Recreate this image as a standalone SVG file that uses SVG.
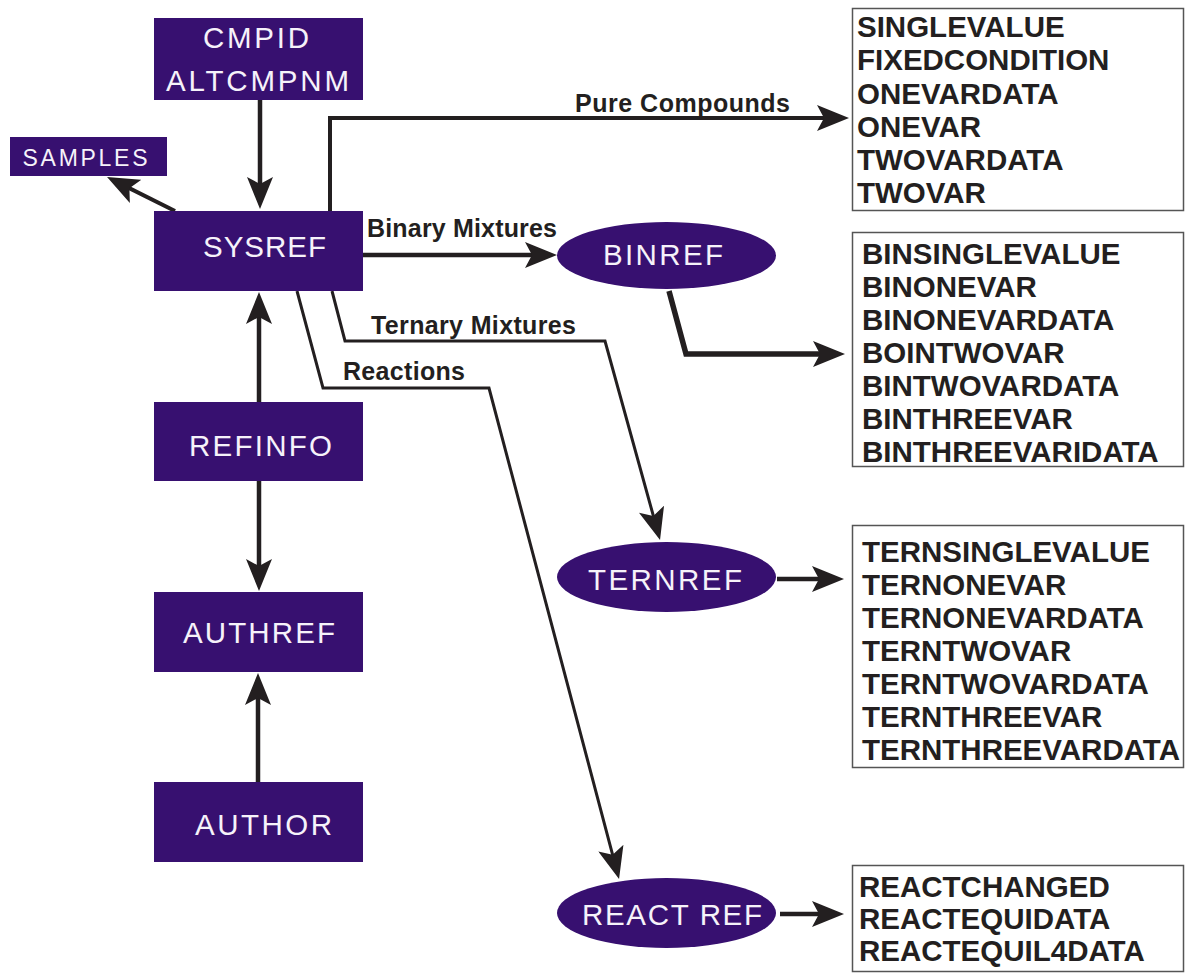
<svg xmlns="http://www.w3.org/2000/svg" width="1185" height="973" viewBox="0 0 1185 973">
<defs>
<marker id="ah" markerUnits="userSpaceOnUse" viewBox="0 0 32 26" markerWidth="32" markerHeight="26" refX="24" refY="13" orient="auto">
<path d="M0,0 L32,13 L0,26 L7,13 z" fill="#231f20"/>
</marker>
<style>
.node{fill:#371070;}
.nt{font-family:"Liberation Sans",Arial,sans-serif;font-size:29.5px;fill:#f6f2fa;text-anchor:middle;}
.lbl{font-family:"Liberation Sans",Arial,sans-serif;font-size:25px;font-weight:bold;fill:#231f20;}
.lst{font-family:"Liberation Sans",Arial,sans-serif;font-size:29.5px;font-weight:bold;fill:#231f20;}
.box{fill:#ffffff;stroke:#555555;stroke-width:1.5;}
.c{fill:none;stroke:#231f20;stroke-linejoin:miter;marker-end:url(#ah);}
</style>
</defs>
<rect width="1185" height="973" fill="#ffffff"/>

<g id="connectors">
<path class="c" stroke-width="4.5" d="M260,100 V201"/>
<path class="c" stroke-width="4" d="M175,211 L114.2,180.6"/>
<path class="c" stroke-width="4.5" d="M259,402 V300"/>
<path class="c" stroke-width="4.5" d="M259,481 V583"/>
<path class="c" stroke-width="4.5" d="M258,782 V681"/>
<path class="c" stroke-width="4" d="M330,211 V118 H841"/>
<path class="c" stroke-width="4.5" d="M363,255 H549"/>
<path class="c" stroke-width="5.5" d="M669,291 L686,354 H837"/>
<path class="c" stroke-width="3" d="M332,291 L345,341 H605 L657.9,532.3"/>
<path class="c" stroke-width="3" d="M297,291 L323,388 H489 L617,871.3"/>
<path class="c" stroke-width="4.5" d="M777,579 H836"/>
<path class="c" stroke-width="4.5" d="M780,914 H836"/>
</g>

<g id="labels">
<text class="lbl" x="575" y="112" textLength="215" lengthAdjust="spacing">Pure Compounds</text>
<text class="lbl" x="367" y="237" textLength="190" lengthAdjust="spacing">Binary Mixtures</text>
<text class="lbl" x="371" y="334" textLength="205" lengthAdjust="spacing">Ternary Mixtures</text>
<text class="lbl" x="343" y="380" textLength="122" lengthAdjust="spacing">Reactions</text>
</g>

<g id="cmpid">
<rect class="node" x="154" y="18" width="209" height="82"/>
<text class="nt" x="256" y="48" textLength="106" lengthAdjust="spacing">CMPID</text>
<text class="nt" x="257.5" y="91" textLength="183" lengthAdjust="spacing">ALTCMPNM</text>
</g>
<g id="samples">
<rect class="node" x="10" y="137" width="157" height="39"/>
<text class="nt" x="85" y="166" style="font-size:23px" textLength="125" lengthAdjust="spacing">SAMPLES</text>
</g>
<g id="sysref">
<rect class="node" x="154" y="211" width="209" height="80"/>
<text class="nt" x="264.5" y="257" textLength="123" lengthAdjust="spacing">SYSREF</text>
</g>
<g id="refinfo">
<rect class="node" x="154" y="402" width="209" height="79"/>
<text class="nt" x="260.5" y="456" textLength="143" lengthAdjust="spacing">REFINFO</text>
</g>
<g id="authref">
<rect class="node" x="154" y="592" width="209" height="80"/>
<text class="nt" x="259" y="643" textLength="152" lengthAdjust="spacing">AUTHREF</text>
</g>
<g id="author">
<rect class="node" x="154" y="782" width="209" height="80"/>
<text class="nt" x="263.5" y="835" textLength="137" lengthAdjust="spacing">AUTHOR</text>
</g>
<g id="binref">
<ellipse class="node" cx="666.5" cy="255.5" rx="109.5" ry="33.5"/>
<text class="nt" x="663" y="265" textLength="120" lengthAdjust="spacing">BINREF</text>
</g>
<g id="ternref">
<ellipse class="node" cx="666.5" cy="577" rx="109.5" ry="35"/>
<text class="nt" x="665" y="590" textLength="154" lengthAdjust="spacing">TERNREF</text>
</g>
<g id="reactref">
<ellipse class="node" cx="666.5" cy="913" rx="109.5" ry="35"/>
<text class="nt" x="672" y="925" textLength="180" lengthAdjust="spacing">REACT REF</text>
</g>

<g id="pure-tables">
<rect class="box" x="852.5" y="8.5" width="331" height="202"/>
<text class="lst" x="857" y="37">SINGLEVALUE</text>
<text class="lst" x="857" y="70">FIXEDCONDITION</text>
<text class="lst" x="857" y="104">ONEVARDATA</text>
<text class="lst" x="857" y="137">ONEVAR</text>
<text class="lst" x="857" y="170">TWOVARDATA</text>
<text class="lst" x="857" y="203">TWOVAR</text>
</g>
<g id="bin-tables">
<rect class="box" x="852.5" y="232.5" width="331" height="234"/>
<text class="lst" x="862" y="264">BINSINGLEVALUE</text>
<text class="lst" x="862" y="297">BINONEVAR</text>
<text class="lst" x="862" y="330">BINONEVARDATA</text>
<text class="lst" x="862" y="363">BOINTWOVAR</text>
<text class="lst" x="862" y="396">BINTWOVARDATA</text>
<text class="lst" x="862" y="429">BINTHREEVAR</text>
<text class="lst" x="862" y="462">BINTHREEVARIDATA</text>
</g>
<g id="tern-tables">
<rect class="box" x="852.5" y="525.5" width="331" height="242"/>
<text class="lst" x="862" y="562">TERNSINGLEVALUE</text>
<text class="lst" x="862" y="595">TERNONEVAR</text>
<text class="lst" x="862" y="628">TERNONEVARDATA</text>
<text class="lst" x="862" y="661">TERNTWOVAR</text>
<text class="lst" x="862" y="694">TERNTWOVARDATA</text>
<text class="lst" x="862" y="727">TERNTHREEVAR</text>
<text class="lst" x="862" y="760">TERNTHREEVARDATA</text>
</g>
<g id="react-tables">
<rect class="box" x="852.5" y="865.5" width="331" height="106"/>
<text class="lst" x="859" y="897">REACTCHANGED</text>
<text class="lst" x="859" y="929">REACTEQUIDATA</text>
<text class="lst" x="859" y="961">REACTEQUIL4DATA</text>
</g>
</svg>
